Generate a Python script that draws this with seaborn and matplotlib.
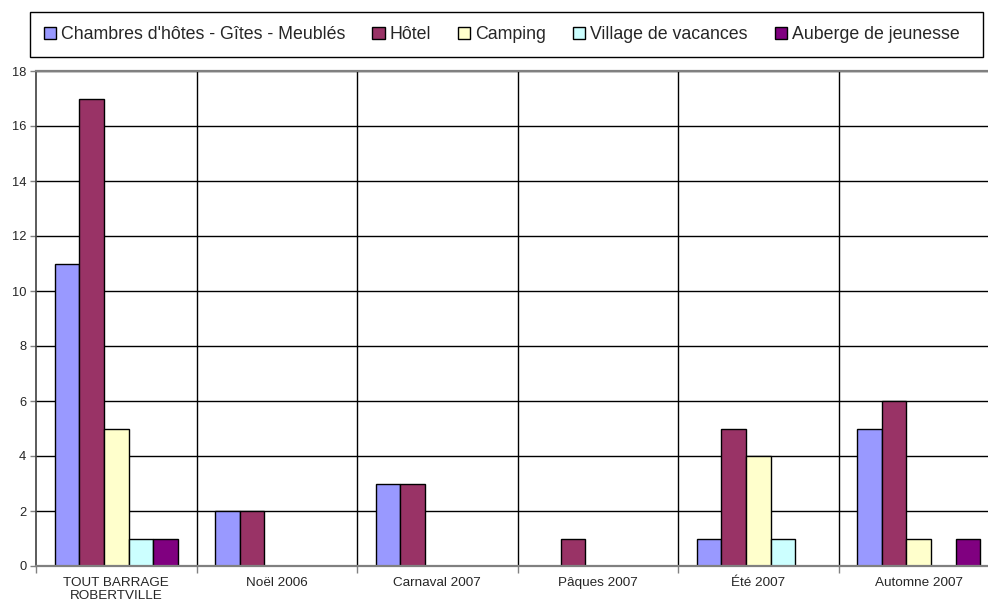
import matplotlib
matplotlib.use("Agg")
import matplotlib.pyplot as plt
import seaborn as sns
import pandas as pd
from matplotlib.patches import Patch, Rectangle
from matplotlib.ticker import FixedLocator

categories = ["TOUT BARRAGE\nROBERTVILLE", "Noël 2006", "Carnaval 2007", "Pâques 2007", "Été 2007", "Automne 2007"]
series = ["Chambres d'hôtes - Gîtes - Meublés", "Hôtel", "Camping", "Village de vacances", "Auberge de jeunesse"]
chambres = [11, 2, 3, 0, 1, 5]
hotel = [17, 2, 3, 1, 5, 6]
camping = [5, 0, 0, 0, 4, 1]
village = [1, 0, 0, 0, 1, 0]
auberge = [1, 0, 0, 0, 0, 1]
colors = ["#9999FF", "#993366", "#FFFFCC", "#CCFFFF", "#800080"]
yticks = list(range(0, 19, 2))

values = [chambres, hotel, camping, village, auberge]
rows = []
for s, vals in zip(series, values):
    for c, v in zip(categories, vals):
        rows.append({"cat": c, "series": s, "value": v})
df = pd.DataFrame(rows)

sns.set_style("white")
plt.rcParams["font.family"] = ["Liberation Sans", "DejaVu Sans"]

W, H = 988, 607
fig = plt.figure(figsize=(W / 100, H / 100), dpi=100)
ax = fig.add_axes([36 / W, (H - 566) / H, (999 - 36) / W, (566 - 71) / H])

sns.barplot(data=df, x="cat", y="value", hue="series", order=categories, hue_order=series,
            palette=dict(zip(series, colors)), saturation=1, edgecolor="black", linewidth=1,
            width=0.765, ax=ax, legend=False, errorbar=None)

ax.set_xlim(-0.5, len(categories) - 0.5)
ax.set_ylim(0, 18)
ax.set_yticks(yticks)
ax.set_yticklabels([str(t) for t in yticks], fontsize=9.3)
ax.set_xticks(range(len(categories)))
ax.set_xticklabels(categories, fontsize=9.7, linespacing=1.15)
ax.set_xlabel("")
ax.set_ylabel("")
ax.tick_params(axis="x", which="major", length=0, pad=8)
ax.xaxis.set_minor_locator(FixedLocator([i + 0.5 for i in range(-1, len(categories))]))
ax.tick_params(axis="x", which="minor", length=5, width=1, color="#808080", direction="out", bottom=True)
ax.tick_params(axis="y", length=4, width=1, color="#808080", direction="out", left=True, pad=3)

for t in yticks[1:]:
    ax.axhline(t, color="black", lw=1, zorder=0)
for i in range(len(categories) - 1):
    ax.axvline(i + 0.5, color="black", lw=1, zorder=0)

for sp in ["bottom", "top"]:
    ax.spines[sp].set_color("#808080")
    ax.spines[sp].set_linewidth(1.6)
ax.spines["left"].set_color("#404040")
ax.spines["left"].set_linewidth(1.2)
ax.spines["right"].set_visible(False)

# legend frame
fig.patches.append(Rectangle((30 / W, (H - 57) / H), (983 - 30) / W, (57 - 12) / H,
                             transform=fig.transFigure, facecolor="white",
                             edgecolor="black", linewidth=1, zorder=0))
handles = [Patch(facecolor=c, edgecolor="black", linewidth=1) for c in colors]
leg = fig.legend(handles, series, loc="center left", ncol=5,
                 bbox_to_anchor=(44 / W, (H - 34.5) / H),
                 fontsize=12.8, frameon=False, borderaxespad=0, borderpad=0,
                 handlelength=0.68, handleheight=0.68, handletextpad=0.3, columnspacing=1.5)

fig.savefig("out.png", dpi=100)
